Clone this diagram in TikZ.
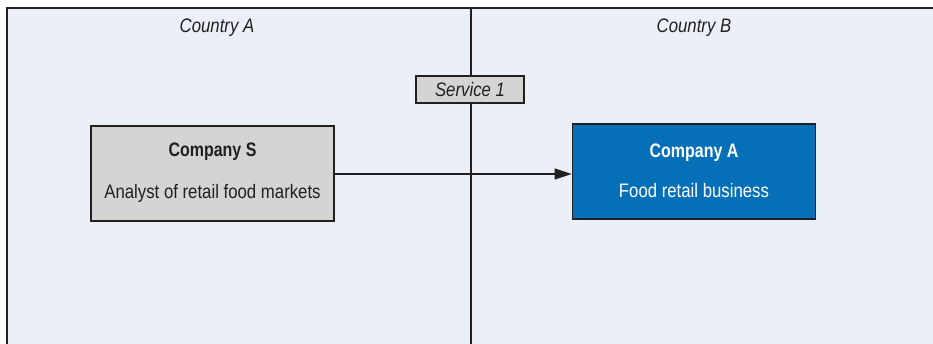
\documentclass[tikz,border=0pt]{standalone}
\usepackage{fontspec}
\setmainfont{Liberation Sans}[FakeStretch=0.86, BoldFeatures={FakeStretch=0.82}]
\usetikzlibrary{arrows.meta}
\definecolor{panel}{HTML}{EAEFF8}
\definecolor{greybox}{HTML}{D4D4D4}
\definecolor{bluebox}{HTML}{0570B8}
\definecolor{ink}{HTML}{231F20}
\tikzset{
  company/.style={draw=ink, line width=1.8pt, minimum width=243pt, minimum height=95pt},
  title/.style={font=\fontsize{19.5}{21}\selectfont\bfseries},
  label/.style={font=\fontsize{19.5}{21}\selectfont},
  country/.style={font=\fontsize{19.5}{21}\selectfont\itshape, text=ink},
}
\begin{document}
\begin{tikzpicture}[x=1pt,y=-1pt]
  \useasboundingbox (0,0) rectangle (933,344);
  % background panel
  \fill[panel] (7,8) rectangle (933,344);
  \draw[ink, line width=1.6pt] (7,344) -- (7,8) -- (933,8);
  % border between the two countries
  \coordinate (divtop) at (471,8);
  \coordinate (divbot) at (471,344);
  \draw[ink, line width=1.6pt] (divtop) -- (divbot);
  \node[country] (ca) at (217,28) {Country A};
  \node[country] (cb) at (694,28) {Country B};
  % companies
  \node[company, fill=greybox] (cs) at (212.5,173.5) {};
  \node[title, text=ink] (cst) at (212.5,151.5) {Company S};
  \node[label, text=ink] (css) at (212.5,193) {Analyst of retail food markets};
  \node[company, fill=bluebox] (cpa) at (694,171.5) {};
  \node[title, text=white] (cat) at (694,152.5) {Company A};
  \node[label, text=white] (cas) at (694,191) {Food retail business};
  % service flow
  \draw[ink, line width=1.4pt, -{Triangle[length=17pt,width=11pt]}] (cs.east |- 0,174) -- (cpa.west |- 0,174);
  \node[draw=ink, line width=1.6pt, fill=greybox, minimum width=108pt, minimum height=27pt,
        font=\fontsize{19.5}{21}\selectfont\itshape, text=ink] (s1) at (470,89.5) {Service 1};
\end{tikzpicture}
\end{document}
